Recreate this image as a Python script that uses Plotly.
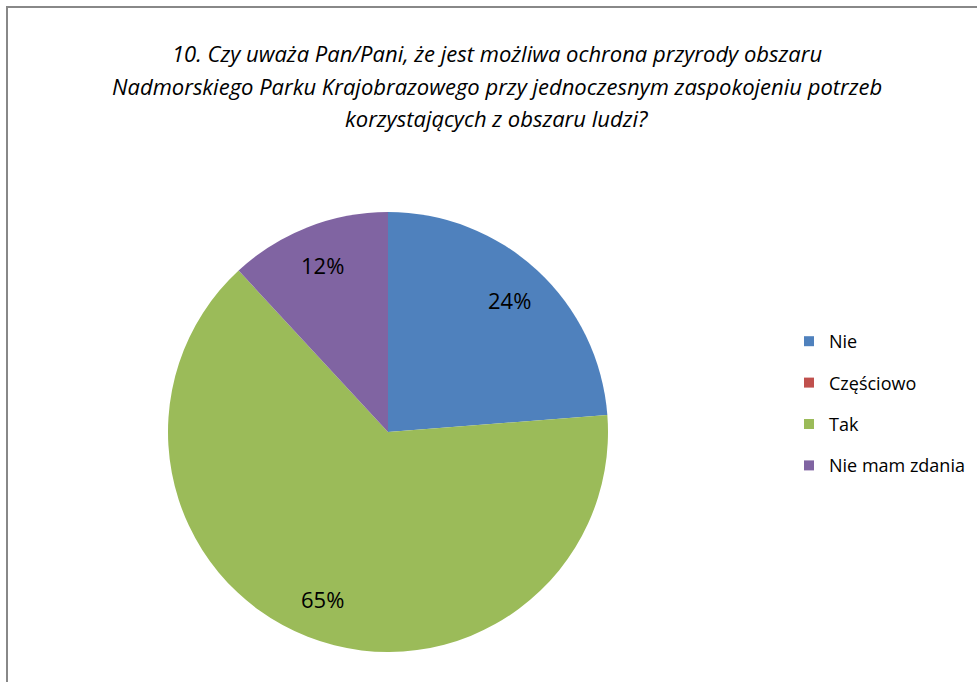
import math
import plotly.graph_objects as go

# Survey answers and their shares (%)
categories = ["Nie", "Częściowo", "Tak", "Nie mam zdania"]
shares = [24, 0, 65, 12]
colors = ["#4F81BD", "#C0504D", "#9BBB59", "#8064A2"]

title_lines = [
    "10. Czy uważa Pan/Pani, że jest możliwa ochrona przyrody obszaru",
    "Nadmorskiego Parku Krajobrazowego przy jednoczesnym zaspokojeniu potrzeb",
    "korzystających z obszaru ludzi?",
]

W, H = 977, 682
FONT = "Open Sans"

# pie geometry in pixels
cx, cy, R = 388, 432, 220
label_r = 0.815 * R

fig = go.Figure()
fig.add_trace(go.Pie(
    labels=categories,
    values=shares,
    textinfo="none",
    marker=dict(colors=colors, line=dict(width=0)),
    sort=False,
    direction="clockwise",
    rotation=0,
    hoverinfo="label+percent",
    showlegend=False,
    domain=dict(x=[(cx - R) / W, (cx + R) / W],
                y=[(H - cy - R) / H, (H - cy + R) / H]),
))

# legend entries (one group each so the gap between rows can be set)
for name, col in zip(categories, colors):
    fig.add_trace(go.Scatter(
        x=[None], y=[None], mode="markers", name=name,
        legendgroup=name,
        marker=dict(symbol="square", size=10, color=col),
        hoverinfo="skip",
    ))

# percentage labels placed at each slice's mid-angle
annotations = []
total = sum(shares)
acc = 0.0
for v in shares:
    if v > 0:
        mid = (acc + v / 2) / total * 2 * math.pi
        px = cx + label_r * math.sin(mid)
        py = cy - label_r * math.cos(mid)
        annotations.append(dict(
            text=f"{v}%", x=px / W, y=(H - py) / H, xref="paper", yref="paper",
            xanchor="center", yanchor="middle", showarrow=False,
            font=dict(family=FONT, size=22, color="#000000"),
        ))
    acc += v

# title, one annotation per line
for i, line in enumerate(title_lines):
    annotations.append(dict(
        text=line,
        x=497 / W, y=(H - (53 + 32.5 * i)) / H, xref="paper", yref="paper",
        xanchor="center", yanchor="middle", showarrow=False,
        font=dict(family=FONT, size=22, color="#000000", style="italic"),
    ))

fig.update_layout(
    width=W,
    height=H,
    margin=dict(l=0, r=0, t=0, b=0),
    paper_bgcolor="white",
    plot_bgcolor="white",
    xaxis=dict(visible=False),
    yaxis=dict(visible=False),
    showlegend=True,
    legend=dict(
        x=789 / W, y=(H - 323) / H, xanchor="left", yanchor="top",
        font=dict(family=FONT, size=18, color="#000000"),
        itemwidth=30,
        tracegroupgap=15,
        traceorder="grouped",
        bgcolor="rgba(0,0,0,0)",
    ),
    annotations=annotations,
    shapes=[dict(
        type="rect", xref="paper", yref="paper",
        x0=7 / W, x1=1.02, y0=-0.02, y1=(H - 7) / H,
        line=dict(color="#888888", width=2),
        fillcolor="rgba(0,0,0,0)",
    )],
)

fig.write_html("out.html")
